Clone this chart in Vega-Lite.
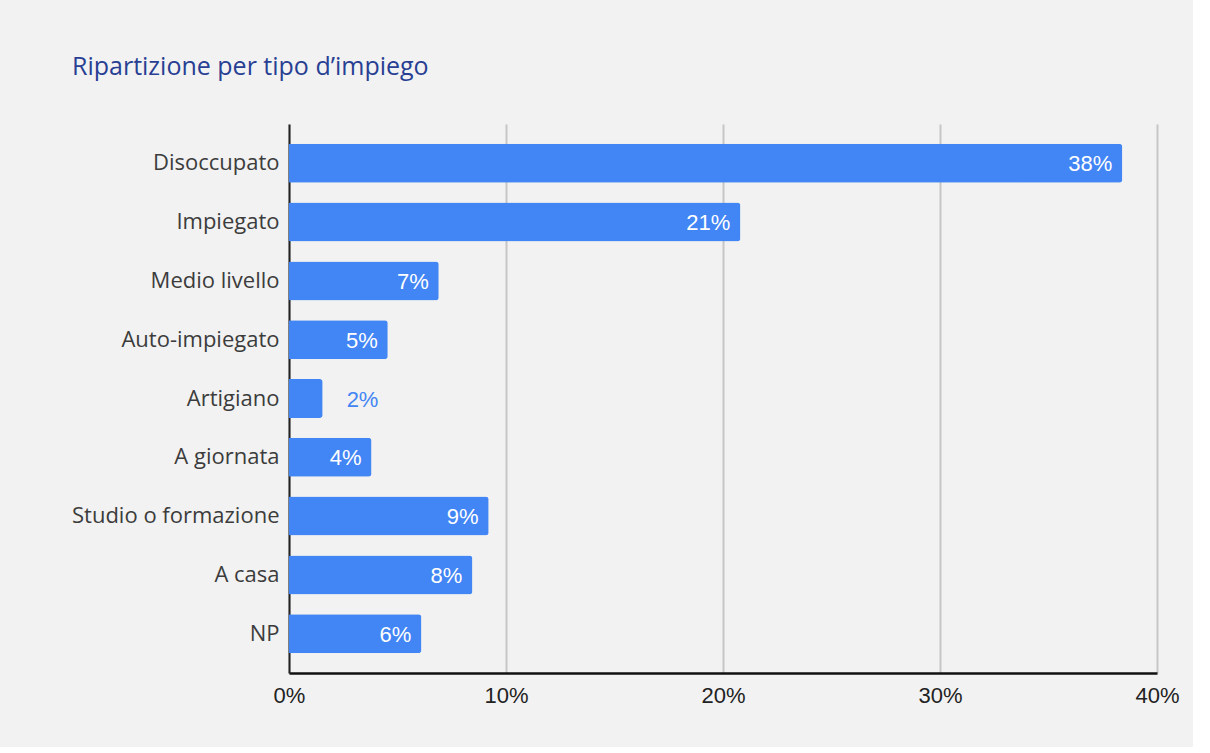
{
  "$schema": "https://vega.github.io/schema/vega-lite/v6.json",
  "autosize": {"type": "none"},
  "width": 868,
  "height": 549,
  "padding": {"left": 289, "top": 124, "right": 36, "bottom": 74},
  "background": "#f2f2f2",
  "title": {
    "text": "Ripartizione per tipo d’impiego",
    "anchor": "start",
    "frame": "group",
    "orient": "top",
    "dx": -217,
    "offset": 24,
    "baseline": "alphabetic",
    "font": "Open Sans",
    "fontSize": 25,
    "fontWeight": "normal",
    "color": "#283f94"
  },
  "data": {
    "values": [
      {"tipo": "Disoccupato", "quota": 0.384},
      {"tipo": "Impiegato", "quota": 0.208},
      {"tipo": "Medio livello", "quota": 0.069},
      {"tipo": "Auto-impiegato", "quota": 0.0455},
      {"tipo": "Artigiano", "quota": 0.0155},
      {"tipo": "A giornata", "quota": 0.038},
      {"tipo": "Studio o formazione", "quota": 0.092},
      {"tipo": "A casa", "quota": 0.0845},
      {"tipo": "NP", "quota": 0.061}
    ]
  },
  "encoding": {
    "y": {
      "field": "tipo",
      "type": "nominal",
      "sort": null,
      "scale": {"paddingInner": 0.337, "paddingOuter": 0.337},
      "axis": {
        "title": null,
        "ticks": false,
        "grid": false,
        "domain": true,
        "domainColor": "#222222",
        "domainWidth": 2,
        "labelFont": "Open Sans",
        "labelFontSize": 22,
        "labelColor": "#3c3c3c",
        "labelPadding": 10,
        "labelLimit": 400
      }
    },
    "x": {
      "field": "quota",
      "type": "quantitative",
      "scale": {"domain": [0, 0.4], "nice": false},
      "axis": {
        "title": null,
        "format": ".0%",
        "values": [0, 0.1, 0.2, 0.3, 0.4],
        "ticks": false,
        "grid": true,
        "gridColor": "#c6c6c6",
        "gridWidth": 2,
        "domain": true,
        "domainColor": "#111111",
        "domainWidth": 2.5,
        "labelFont": "Liberation Sans",
        "labelFontSize": 22,
        "labelColor": "#222222",
        "labelPadding": 12,
        "labelFlush": false
      }
    }
  },
  "layer": [
    {
      "mark": {"type": "bar", "color": "#4285f4", "cornerRadiusEnd": 3}
    },
    {
      "transform": [{"filter": "datum.quota >= 0.03"}],
      "mark": {"type": "text", "align": "right", "baseline": "middle", "dx": -10, "dy": 1, "color": "#ffffff", "font": "Liberation Sans", "fontSize": 22},
      "encoding": {"text": {"field": "quota", "type": "quantitative", "format": ".0%"}}
    },
    {
      "transform": [{"filter": "datum.quota < 0.03"}],
      "mark": {"type": "text", "align": "left", "baseline": "middle", "dx": 24, "dy": 1, "color": "#4285f4", "font": "Liberation Sans", "fontSize": 22},
      "encoding": {"text": {"field": "quota", "type": "quantitative", "format": ".0%"}}
    }
  ],
  "config": {"view": {"stroke": null}}
}
